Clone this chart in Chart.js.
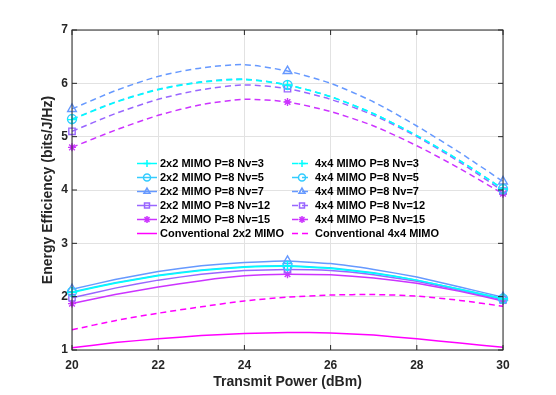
<!DOCTYPE html>
<html>
<head>
<meta charset="utf-8">
<script src="https://cdn.jsdelivr.net/npm/chart.js@4"></script>
<style>
  html, body { margin: 0; padding: 0; background: #fff; }
  #wrap { width: 556px; height: 395px; }
</style>
</head>
<body>
<div id="wrap"><canvas id="eeChart" width="556" height="395"></canvas></div>
<script>
// transmit power (dBm)
const power = [20, 21, 22, 23, 24, 25, 26, 27, 28, 29, 30];

// 2x2 MIMO, P=8
const mimo2Nv3  = [2.08, 2.25, 2.39, 2.49, 2.55, 2.57, 2.53, 2.44, 2.31, 2.14, 1.96];
const mimo2Nv5  = [2.09, 2.26, 2.40, 2.50, 2.56, 2.58, 2.54, 2.45, 2.31, 2.14, 1.96];
const mimo2Nv7  = [2.14, 2.32, 2.47, 2.58, 2.64, 2.67, 2.62, 2.51, 2.37, 2.18, 1.99];
const mimo2Nv12 = [1.98, 2.16, 2.31, 2.42, 2.49, 2.51, 2.49, 2.41, 2.29, 2.12, 1.94];
const mimo2Nv15 = [1.87, 2.04, 2.18, 2.30, 2.39, 2.42, 2.41, 2.35, 2.25, 2.10, 1.92];
const conv2x2   = [1.04, 1.14, 1.21, 1.27, 1.31, 1.33, 1.32, 1.28, 1.21, 1.13, 1.05];

// 4x4 MIMO, P=8
const mimo4Nv3  = [5.32, 5.64, 5.88, 6.02, 6.07, 5.97, 5.75, 5.43, 5.02, 4.55, 4.02];
const mimo4Nv5  = [5.33, 5.65, 5.89, 6.03, 6.08, 5.97, 5.75, 5.43, 5.02, 4.55, 4.02];
const mimo4Nv7  = [5.52, 5.86, 6.13, 6.29, 6.35, 6.23, 6.00, 5.65, 5.20, 4.70, 4.16];
const mimo4Nv12 = [5.10, 5.43, 5.70, 5.88, 5.97, 5.90, 5.70, 5.40, 5.00, 4.52, 3.98];
const mimo4Nv15 = [4.80, 5.12, 5.40, 5.60, 5.70, 5.65, 5.47, 5.20, 4.83, 4.40, 3.93];
const conv4x4   = [1.38, 1.55, 1.69, 1.81, 1.92, 1.99, 2.03, 2.04, 2.01, 1.93, 1.82];

const yTicks = [1, 2, 3, 4, 5, 6, 7];
const xTicks = [20, 22, 24, 26, 28, 30];

// matlab "cool" colormap steps
const cool = ['#00ffff', '#33ccff', '#6699ff', '#9966ff', '#cc33ff', '#ff00ff'];
const marks = ['cross', 'circle', 'triangle', 'rect', 'star', false];
const markSize = [5, 4.5, 5, 4.5, 4, 0];
const ink = '#262626';

const series = [
  ['2x2 MIMO P=8 Nv=3', mimo2Nv3], ['2x2 MIMO P=8 Nv=5', mimo2Nv5],
  ['2x2 MIMO P=8 Nv=7', mimo2Nv7], ['2x2 MIMO P=8 Nv=12', mimo2Nv12],
  ['2x2 MIMO P=8 Nv=15', mimo2Nv15], ['Conventional 2x2 MIMO', conv2x2],
  ['4x4 MIMO P=8 Nv=3', mimo4Nv3], ['4x4 MIMO P=8 Nv=5', mimo4Nv5],
  ['4x4 MIMO P=8 Nv=7', mimo4Nv7], ['4x4 MIMO P=8 Nv=12', mimo4Nv12],
  ['4x4 MIMO P=8 Nv=15', mimo4Nv15], ['Conventional 4x4 MIMO', conv4x4]
];

const datasets = series.map(([label, vals], i) => {
  const k = i % 6;
  const dashed = i >= 6;
  return {
    label,
    data: power.map((p, j) => ({ x: p, y: vals[j] })),
    borderColor: cool[k],
    backgroundColor: 'rgba(255,255,255,0)',
    borderWidth: 1.5,
    borderDash: dashed ? [6, 4] : [],
    tension: dashed ? 0.25 : 0.1,
    pointStyle: marks[k],
    pointRadius: c => (marks[k] && c.dataIndex % 5 === 0) ? markSize[k] : 0,
    pointBorderWidth: 1.4,
    pointBackgroundColor: 'rgba(255,255,255,0)',
    clip: false
  };
});

// box + inward ticks, like matlab axes
const frame = {
  id: 'frame',
  afterDraw(chart) {
    const { ctx, chartArea: a, scales } = chart;
    ctx.save();
    ctx.strokeStyle = ink;
    ctx.lineWidth = 1;
    ctx.strokeRect(a.left, a.top, a.right - a.left, a.bottom - a.top);
    ctx.beginPath();
    xTicks.forEach(v => {
      const px = scales.x.getPixelForValue(v);
      ctx.moveTo(px, a.bottom); ctx.lineTo(px, a.bottom - 5);
      ctx.moveTo(px, a.top); ctx.lineTo(px, a.top + 5);
    });
    yTicks.forEach(v => {
      const py = scales.y.getPixelForValue(v);
      ctx.moveTo(a.left, py); ctx.lineTo(a.left + 5, py);
      ctx.moveTo(a.right, py); ctx.lineTo(a.right - 5, py);
    });
    ctx.stroke();
    ctx.restore();
  }
};

// two-column legend inside the axes, no box
const legend2 = {
  id: 'legend2',
  afterDraw(chart) {
    const { ctx, chartArea: a } = chart;
    ctx.save();
    ctx.font = 'bold 11px "Liberation Sans", Arial, sans-serif';
    ctx.textBaseline = 'middle';
    ctx.fillStyle = '#000';
    chart.data.datasets.forEach((ds, i) => {
      const col = Math.floor(i / 6), row = i % 6;
      const x0 = a.left + 65 + col * 155;
      const y0 = a.top + 133.5 + row * 14;
      ctx.strokeStyle = ds.borderColor;
      ctx.lineWidth = 1.5;
      ctx.setLineDash(ds.borderDash);
      ctx.beginPath();
      ctx.moveTo(x0, y0); ctx.lineTo(x0 + 20, y0);
      ctx.stroke();
      ctx.setLineDash([]);
      if (ds.pointStyle) {
        ctx.fillStyle = 'rgba(255,255,255,0)';
        Chart.helpers.drawPoint(ctx, { pointStyle: ds.pointStyle, radius: 3.5, borderWidth: 1.2, rotation: 0 }, x0 + 10, y0);
      }
      ctx.fillStyle = '#000';
      ctx.fillText(ds.label, x0 + 23, y0 + 0.5);
    });
    ctx.restore();
  }
};

const tickFont = { family: '"Liberation Sans", Arial, sans-serif', size: 12, weight: 'bold' };
const titleFont = { family: '"Liberation Sans", Arial, sans-serif', size: 14, weight: 'bold' };

new Chart(document.getElementById('eeChart'), {
  type: 'line',
  data: { datasets },
  options: {
    responsive: false,
    animation: false,
    devicePixelRatio: 1,
    layout: { padding: { left: 36, right: 53, top: 30, bottom: 0 } },
    plugins: { legend: { display: false }, tooltip: { enabled: false } },
    scales: {
      x: {
        type: 'linear', min: 20, max: 30,
        afterBuildTicks: s => { s.ticks = xTicks.map(v => ({ value: v })); },
        afterFit: s => { s.height = 45; },
        ticks: { font: tickFont, color: ink, padding: 8 },
        grid: { color: '#e2e2e2', lineWidth: 1, drawTicks: false },
        border: { display: false },
        title: { display: true, text: 'Transmit Power (dBm)', font: titleFont, color: ink, padding: { top: 4, bottom: 4 } }
      },
      y: {
        type: 'linear', min: 1, max: 7,
        afterBuildTicks: s => { s.ticks = yTicks.map(v => ({ value: v })); },
        afterFit: s => { s.width = 36; },
        ticks: { font: tickFont, color: ink, padding: 4 },
        grid: { color: '#e2e2e2', lineWidth: 1, drawTicks: false },
        border: { display: false },
        title: { display: true, text: 'Energy Efficiency (bits/J/Hz)', font: titleFont, color: ink, padding: { top: 4, bottom: 4 } }
      }
    }
  },
  plugins: [frame, legend2]
});
</script>
</body>
</html>
